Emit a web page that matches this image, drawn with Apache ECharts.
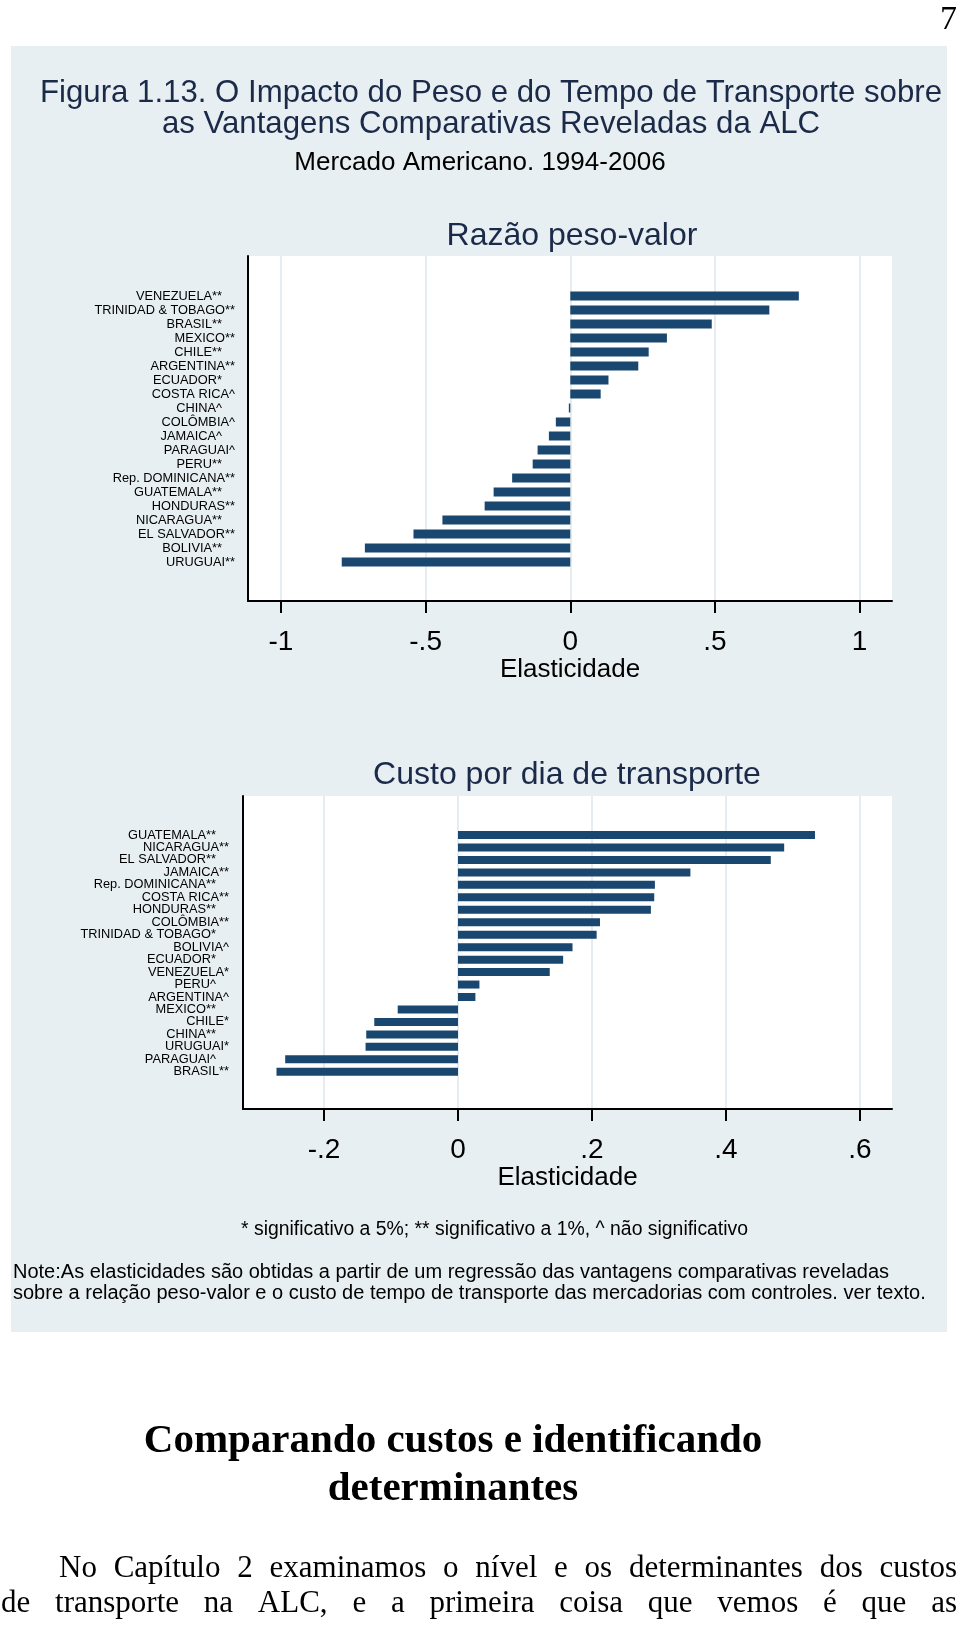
<!DOCTYPE html>
<html><head><meta charset="utf-8">
<script src="https://cdn.jsdelivr.net/npm/echarts@6/dist/echarts.min.js"></script>
<style>html,body{margin:0;padding:0;background:#fff}#c{width:960px;height:1630px}</style>
</head><body><div id="c"></div>
<script>
// ---------- data ----------
const countries1 = ['VENEZUELA**','TRINIDAD & TOBAGO**','BRASIL**','MEXICO**','CHILE**','ARGENTINA**','ECUADOR*','COSTA RICA^','CHINA^','COLÔMBIA^','JAMAICA^','PARAGUAI^','PERU**','Rep. DOMINICANA**','GUATEMALA**','HONDURAS**','NICARAGUA**','EL SALVADOR**','BOLIVIA**','URUGUAI**'];
const values1 = [0.790,0.688,0.489,0.334,0.271,0.235,0.132,0.105,-0.005,-0.050,-0.074,-0.113,-0.130,-0.201,-0.265,-0.296,-0.442,-0.542,-0.710,-0.790];
const countries2 = ['GUATEMALA**','NICARAGUA**','EL SALVADOR**','JAMAICA**','Rep. DOMINICANA**','COSTA RICA**','HONDURAS**','COLÔMBIA**','TRINIDAD & TOBAGO*','BOLIVIA^','ECUADOR*','VENEZUELA*','PERU^','ARGENTINA^','MEXICO**','CHILE*','CHINA**','URUGUAI*','PARAGUAI^','BRASIL**'];
const values2 = [0.533,0.487,0.467,0.347,0.294,0.293,0.288,0.212,0.207,0.171,0.157,0.137,0.032,0.026,-0.090,-0.125,-0.137,-0.138,-0.258,-0.271];
const ticks1 = [-1,-0.5,0,0.5,1];
const tickLabels1 = ['-1','-.5','0','.5','1'];
const ticks2 = [-0.2,0,0.2,0.4,0.6];
const tickLabels2 = ['-.2','0','.2','.4','.6'];

const titleText = 'Figura 1.13. O Impacto do Peso e do Tempo de Transporte sobre\nas Vantagens Comparativas Reveladas da ALC';
const subtitleText = 'Mercado Americano. 1994-2006';
const chartTitle1 = 'Razão peso-valor';
const chartTitle2 = 'Custo por dia de transporte';
const axisName = 'Elasticidade';
const legendText = '* significativo a 5%; ** significativo a 1%, ^ não significativo';
const noteText = 'Note:As elasticidades são obtidas a partir de um regressão das vantagens comparativas reveladas\nsobre a relação peso-valor e o custo de tempo de transporte das mercadorias com controles. ver texto.';
const headingText = ['Comparando custos e identificando', 'determinantes'];
const paraLines = ['No Capítulo 2 examinamos o nível e os determinantes dos custos', 'de transporte na ALC, e a primeira coisa que vemos é que as'];

// ---------- style / layout ----------
const SANS = "'Liberation Sans', Arial, Helvetica, sans-serif";
const SERIF = "'Liberation Serif', 'Times New Roman', serif";
const NAVY = '#1a2a48';
const BAR = '#1a476f';
const PANEL = '#e8eff2';
const GRIDC = '#dde7ec';

const P1 = {left:248, right:892, top:256, bottom:601, barTop:289, barH:280, min:-1.114, max:1.112, barW:9, lblMargin:13, nameGap:53};
const P2 = {left:243, right:892, top:796, bottom:1109, barTop:828.8, barH:249.2, min:-0.321, max:0.648, barW:8, lblMargin:14, nameGap:55};

function fmt(ticks, labels){
  return v => { const i = ticks.findIndex(t => Math.abs(t - v) < 1e-9); return i >= 0 ? labels[i] : ''; };
}

const grids = [], xAxes = [], yAxes = [], series = [];
function addPanel(P, cats, vals, ticks, labels){
  const g = grids.length;
  grids.push({left:P.left, top:P.top, width:P.right-P.left, height:P.bottom-P.top, show:true, backgroundColor:'#ffffff', borderWidth:0});
  grids.push({left:P.left, top:P.barTop, width:P.right-P.left, height:P.barH});
  xAxes.push({gridIndex:g, type:'value', min:P.min, max:P.max,
    axisLine:{show:true, onZero:false, lineStyle:{color:'#000', width:2}},
    axisTick:{show:true, customValues:ticks, length:12, lineStyle:{color:'#000', width:2}},
    axisLabel:{customValues:ticks, formatter:fmt(ticks, labels), fontSize:28, color:'#000', margin:27, fontFamily:SANS},
    splitLine:{show:true, lineStyle:{color:GRIDC, width:1.5}},
    name:axisName, nameLocation:'middle', nameGap:P.nameGap, nameTextStyle:{fontSize:26, color:'#000', fontFamily:SANS}});
  yAxes.push({gridIndex:g, type:'value', min:0, max:1,
    axisLine:{show:true, onZero:false, lineStyle:{color:'#000', width:2}},
    axisTick:{show:false}, axisLabel:{show:false}, splitLine:{show:false}});
  xAxes.push({gridIndex:g+1, type:'value', min:P.min, max:P.max, show:false});
  yAxes.push({gridIndex:g+1, type:'category', inverse:true, data:cats,
    axisLine:{show:false}, axisTick:{show:false}, splitLine:{show:false},
    axisLabel:{interval:0, margin:P.lblMargin, fontSize:12.8, color:'#000', fontFamily:SANS,
      formatter:(v, i) => (i % 2 === 0 ? '{f|' : '{n|') + v + '}',
      rich:{f:{padding:[0,13,0,0], fontSize:12.8, color:'#000', fontFamily:SANS}, n:{fontSize:12.8, color:'#000', fontFamily:SANS}}}});
  series.push({type:'bar', xAxisIndex:g+1, yAxisIndex:g+1, data:vals, barWidth:P.barW, itemStyle:{color:BAR}, silent:true});
}
addPanel(P1, countries1, values1, ticks1, tickLabels1);
addPanel(P2, countries2, values2, ticks2, tickLabels2);

// justified paragraph words
const ctx = document.createElement('canvas').getContext('2d');
const paraFont = '31px ' + SERIF;
ctx.font = paraFont;
function justify(line, x0, x1, y){
  const words = line.split(' ');
  const ws = words.map(w => ctx.measureText(w).width);
  const gap = (x1 - x0 - ws.reduce((a,b)=>a+b,0)) / (words.length - 1);
  let x = x0; const out = [];
  words.forEach((w, i) => { out.push({type:'text', x:x, y:y, style:{text:w, font:paraFont, fill:'#000', align:'left', verticalAlign:'middle'}}); x += ws[i] + gap; });
  return out;
}

const graphics = [
  {type:'rect', z:-10, shape:{x:11, y:46, width:936, height:1286}, style:{fill:PANEL}, silent:true},
  {type:'text', x:957, y:20, style:{text:'7', font:'34px ' + SERIF, fill:'#000', align:'right', verticalAlign:'middle'}},
  {type:'text', x:453, y:1441, style:{text:headingText[0], font:'bold 41px ' + SERIF, fill:'#000', align:'center', verticalAlign:'middle'}},
  {type:'text', x:453, y:1489, style:{text:headingText[1], font:'bold 41px ' + SERIF, fill:'#000', align:'center', verticalAlign:'middle'}},
  ...justify(paraLines[0], 59, 957, 1569),
  ...justify(paraLines[1], 1, 957, 1604)
];

const option = {
  animation:false,
  backgroundColor:'#ffffff',
  title:[
    {text:titleText, left:491, top:78, textAlign:'center', padding:0, textStyle:{fontSize:31.2, lineHeight:31, fontWeight:'normal', color:NAVY, fontFamily:SANS}},
    {text:subtitleText, left:480, top:150, textAlign:'center', padding:0, textStyle:{fontSize:26, fontWeight:'normal', color:'#000', fontFamily:SANS}},
    {text:chartTitle1, left:572, top:220, textAlign:'center', padding:0, textStyle:{fontSize:32, fontWeight:'normal', color:NAVY, fontFamily:SANS}},
    {text:chartTitle2, left:567, top:759, textAlign:'center', padding:0, textStyle:{fontSize:32, fontWeight:'normal', color:NAVY, fontFamily:SANS}},
    {text:legendText, left:241, top:1220, padding:0, textStyle:{fontSize:19.4, fontWeight:'normal', color:'#000', fontFamily:SANS}},
    {text:noteText, left:13, top:1262, padding:0, textStyle:{fontSize:20, lineHeight:21, fontWeight:'normal', color:'#000', fontFamily:SANS}}
  ],
  grid:grids, xAxis:xAxes, yAxis:yAxes, series:series,
  graphic:graphics
};
const chart = echarts.init(document.getElementById('c'), null, {renderer:'canvas'});
chart.setOption(option);
</script></body></html>
